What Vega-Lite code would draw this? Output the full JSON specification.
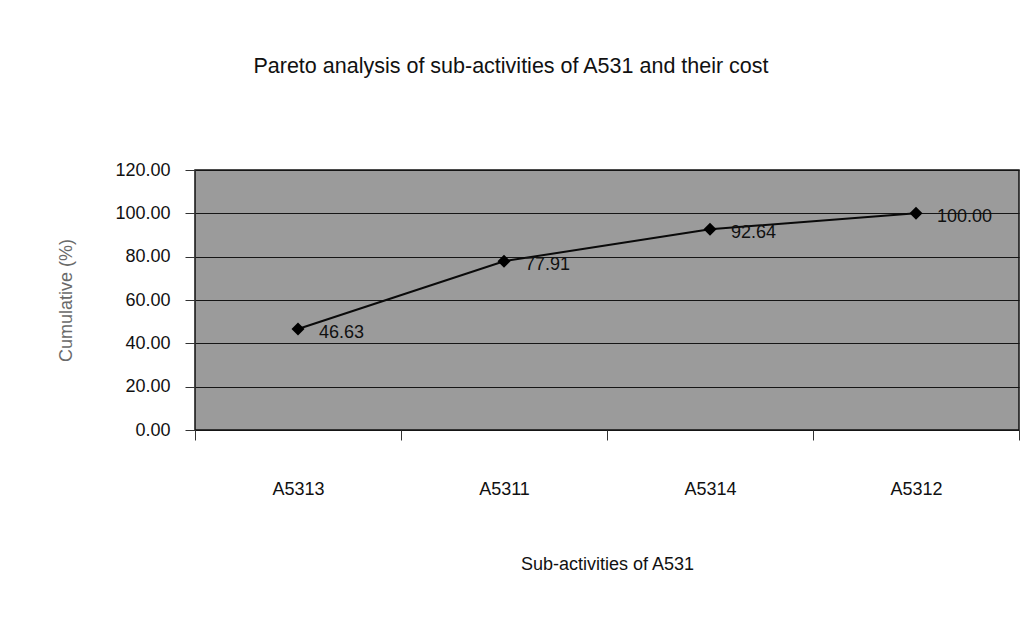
{
  "$schema": "https://vega.github.io/schema/vega-lite/v6.json",
  "width": 824,
  "height": 260,
  "autosize": "none",
  "padding": {"left": 195, "top": 170, "right": 15, "bottom": 191},
  "background": "white",
  "config": {
    "font": "Liberation Sans",
    "view": {"fill": "#9b9b9b", "stroke": "#111111", "strokeWidth": 1.5}
  },
  "title": {
    "text": "Pareto analysis of sub-activities of A531 and their cost",
    "fontSize": 21.5,
    "fontWeight": "normal",
    "color": "#111111",
    "anchor": "middle",
    "dx": -96,
    "offset": 84
  },
  "data": {
    "values": [
      {"activity": "A5313", "cumulative": 46.63},
      {"activity": "A5311", "cumulative": 77.91},
      {"activity": "A5314", "cumulative": 92.64},
      {"activity": "A5312", "cumulative": 100.00}
    ]
  },
  "encoding": {
    "x": {
      "field": "activity",
      "type": "nominal",
      "sort": null,
      "scale": {"type": "band", "paddingInner": 0, "paddingOuter": 0},
      "axis": {
        "title": "Sub-activities of A531",
        "labelAngle": 0,
        "tickBand": "extent",
        "tickSize": 10,
        "tickColor": "#333333",
        "domain": false,
        "grid": false,
        "labelFontSize": 18,
        "labelColor": "#111111",
        "labelPadding": 40,
        "titleFontSize": 18,
        "titleFontWeight": "normal",
        "titleColor": "#111111",
        "titlePadding": 57
      }
    },
    "y": {
      "field": "cumulative",
      "type": "quantitative",
      "scale": {"domain": [0, 120], "nice": false},
      "axis": {
        "title": "Cumulative (%)",
        "values": [0, 20, 40, 60, 80, 100, 120],
        "format": ".2f",
        "tickSize": 10,
        "tickColor": "#333333",
        "domain": false,
        "grid": true,
        "gridColor": "#151515",
        "gridWidth": 1,
        "labelFontSize": 18,
        "labelColor": "#111111",
        "labelPadding": 15,
        "titleFontSize": 18,
        "titleFontWeight": "normal",
        "titleColor": "#6a6a6a",
        "titlePadding": 39
      }
    }
  },
  "layer": [
    {"mark": {"type": "line", "color": "#0a0a0a", "strokeWidth": 2}},
    {"mark": {"type": "point", "shape": "diamond", "size": 170, "filled": true, "color": "#000000", "opacity": 1}},
    {
      "mark": {"type": "text", "align": "left", "baseline": "middle", "dx": 21, "dy": 4, "fontSize": 18, "color": "#111111"},
      "encoding": {"text": {"field": "cumulative", "type": "quantitative", "format": ".2f"}}
    }
  ]
}
